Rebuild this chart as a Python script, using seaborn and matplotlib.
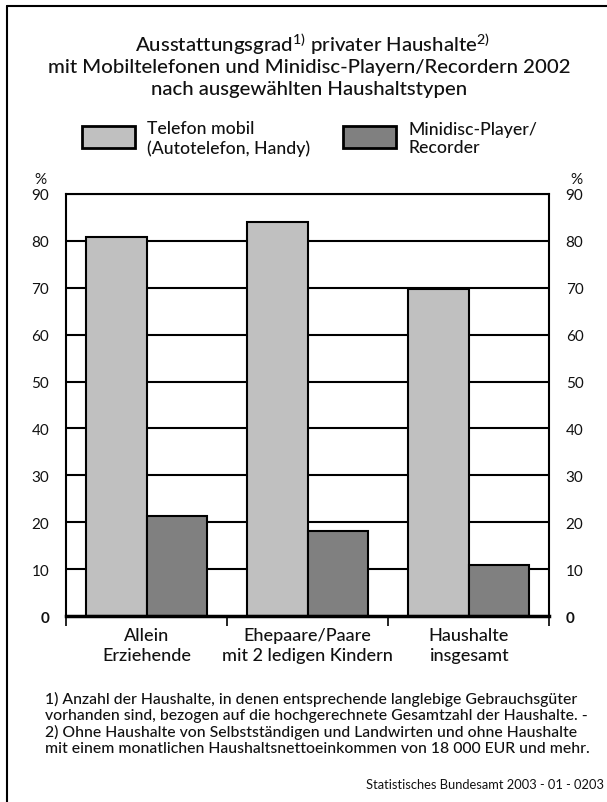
import matplotlib
matplotlib.use("Agg")
import matplotlib.pyplot as plt
from matplotlib.patches import Rectangle
from matplotlib.lines import Line2D
import seaborn as sns
import pandas as pd

# Data
categories = ["Allein\nErziehende", "Ehepaare/Paare\nmit 2 ledigen Kindern", "Haushalte\ninsgesamt"]
series_names = ["Telefon mobil\n(Autotelefon, Handy)", "Minidisc-Player/\nRecorder"]
telefon_mobil = [80.7, 84.0, 69.7]
minidisc = [21.3, 18.1, 11.0]
y_ticks = [0, 10, 20, 30, 40, 50, 60, 70, 80, 90]
colors = ["#c0c0c0", "#808080"]

sns.set_theme(style="white")
FONT = "Lato"
plt.rcParams["font.family"] = [FONT, "DejaVu Sans"]
plt.rcParams["mathtext.fontset"] = "custom"
plt.rcParams["mathtext.rm"] = FONT
plt.rcParams["mathtext.default"] = "regular"
TXT = "#111111"

df = pd.DataFrame({
    "cat": categories * 2,
    "series": [series_names[0]] * 3 + [series_names[1]] * 3,
    "value": telefon_mobil + minidisc,
})

W, H = 607, 803
fig = plt.figure(figsize=(W / 100, H / 100), dpi=100)
fig.patch.set_facecolor("white")

def fx(px):
    return px / W

def fy(py):
    return 1 - py / H

ax = fig.add_axes([fx(66), fy(617.3), fx(549) - fx(66), fy(194.7) - fy(617.3)])

# Horizontal grid behind the bars
for t in y_ticks[1:]:
    ax.axhline(t, color="black", lw=1.5, zorder=0)

sns.barplot(data=df, x="cat", y="value", hue="series", palette=colors,
            width=0.75, edgecolor="black", linewidth=1.5, ax=ax,
            legend=False, zorder=2, saturation=1)

ax.set_xlim(-0.5, 2.5)
ax.set_ylim(0, 90)
ax.set_xlabel("")
ax.set_ylabel("")

for s in ["top", "right", "left"]:
    ax.spines[s].set_visible(True)
    ax.spines[s].set_color("black")
    ax.spines[s].set_linewidth(1.5)
ax.spines["bottom"].set_visible(True)
ax.spines["bottom"].set_color("black")
ax.spines["bottom"].set_linewidth(2.5)

# Category labels, boundary ticks below the axis
ax.set_xticks([0, 1, 2])
ax.set_xticklabels(categories, fontsize=13, linespacing=1.3, color=TXT,
                   fontweight="medium")
ax.tick_params(axis="x", which="major", length=0, pad=8)
ax.set_xticks([-0.5, 0.5, 1.5, 2.5], minor=True)
ax.tick_params(axis="x", which="minor", length=7, width=1.2, color="black",
               direction="out", bottom=True)

# Y tick labels on both sides
ax.set_yticks(y_ticks)
ax.tick_params(axis="y", length=0, labelsize=11, left=True, right=True,
               labelleft=True, labelright=True, pad=12, labelcolor=TXT)
fig.canvas.draw()
for t in ax.yaxis.get_major_ticks():
    if t.label1.get_text() == "0":
        t.label1.set_fontweight("bold")
        t.label2.set_fontweight("bold")

fig.text(fx(40), fy(180), "%", ha="center", va="center", fontsize=11, color=TXT)
fig.text(fx(576), fy(180), "%", ha="center", va="center", fontsize=11, color=TXT)

# Title
title_kw = dict(ha="center", va="center", fontsize=14.7, color=TXT, fontweight="medium")
fig.text(fx(312), fy(44), "Ausstattungsgrad$^{1)}$ privater Haushalte$^{2)}$", **title_kw)
fig.text(fx(309), fy(67), "mit Mobiltelefonen und Minidisc-Playern/Recordern 2002", **title_kw)
fig.text(fx(309), fy(90), "nach ausgewählten Haushaltstypen", **title_kw)

# Legend
leg_items = [(82, 135, 147), (343, 396, 408)]
for (x0, x1, tx), col, name in zip(leg_items, colors, series_names):
    fig.patches.append(Rectangle((fx(x0), fy(149)), fx(x1) - fx(x0), fy(127) - fy(149),
                                 transform=fig.transFigure, facecolor=col,
                                 edgecolor="black", linewidth=2))
    fig.text(fx(tx), fy(139), name, ha="left", va="center", fontsize=12.7,
             linespacing=1.2, color=TXT, fontweight="medium")

# Footnotes
foot = ("1) Anzahl der Haushalte, in denen entsprechende langlebige Gebrauchsgüter\n"
        "vorhanden sind, bezogen auf die hochgerechnete Gesamtzahl der Haushalte. -\n"
        "2) Ohne Haushalte von Selbstständigen und Landwirten und ohne Haushalte\n"
        "mit einem monatlichen Haushaltsnettoeinkommen von 18 000 EUR und mehr.")
fig.text(fx(45), fy(724), foot, ha="left", va="center", fontsize=11.3,
         linespacing=1.15, color=TXT, fontweight="medium")
fig.text(fx(604), fy(785), "Statistisches Bundesamt 2003 - 01 - 0203",
         ha="right", va="center", fontsize=9.3, color=TXT)

# Frame: left and top border
fig.lines.append(Line2D([fx(7), fx(7)], [fy(7), 0], transform=fig.transFigure,
                        color="black", lw=1.5))
fig.lines.append(Line2D([fx(7), 1], [fy(7), fy(7)], transform=fig.transFigure,
                        color="black", lw=1.5))

fig.savefig("out.png", dpi=100, facecolor="white")
